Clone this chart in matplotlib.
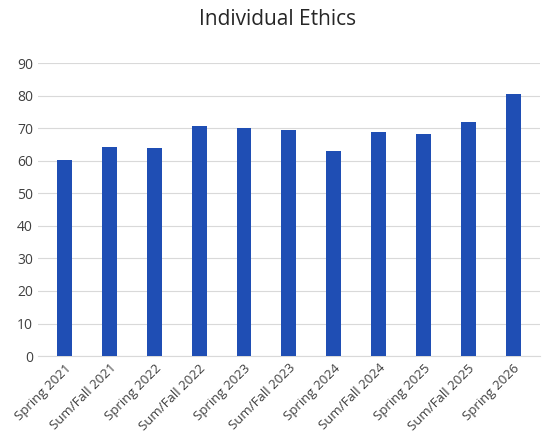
import matplotlib
matplotlib.use('Agg')
import matplotlib.pyplot as plt

terms = ['Spring 2021', 'Sum/Fall 2021', 'Spring 2022', 'Sum/Fall 2022', 'Spring 2023',
         'Sum/Fall 2023', 'Spring 2024', 'Sum/Fall 2024', 'Spring 2025', 'Sum/Fall 2025',
         'Spring 2026']
scores = [60.1, 64.1, 63.9, 70.6, 70.0, 69.4, 63.0, 68.9, 68.3, 72.0, 80.4]
yticks = [0, 10, 20, 30, 40, 50, 60, 70, 80, 90]

plt.rcParams['font.family'] = ['Open Sans', 'DejaVu Sans']

fig = plt.figure(figsize=(5.55, 4.44), dpi=100)
ax = fig.add_axes([0.068, 0.198, 0.905, 0.66])
ax.bar(range(len(terms)), scores, width=0.33, color='#1F4EB4', zorder=3)
ax.set_ylim(0, 90)
ax.set_xlim(-0.6, len(terms) - 0.4)
ax.set_yticks(yticks)
ax.grid(axis='y', color='#d9d9d9', linewidth=0.8, zorder=0)
ax.set_xticks(range(len(terms)))
ax.set_xticklabels(terms, rotation=45, ha='right', rotation_mode='anchor', fontsize=9.5, color='#404040')
ax.tick_params(axis='y', labelsize=10, colors='#404040', length=0)
ax.tick_params(axis='x', length=0, pad=4)
for s in ['top', 'right', 'left']:
    ax.spines[s].set_visible(False)
ax.spines['bottom'].set_color('#d9d9d9')
fig.text(0.5, 0.955, 'Individual Ethics', ha='center', va='center', fontsize=15, color='#262626')

fig.savefig('out.png', dpi=100)
